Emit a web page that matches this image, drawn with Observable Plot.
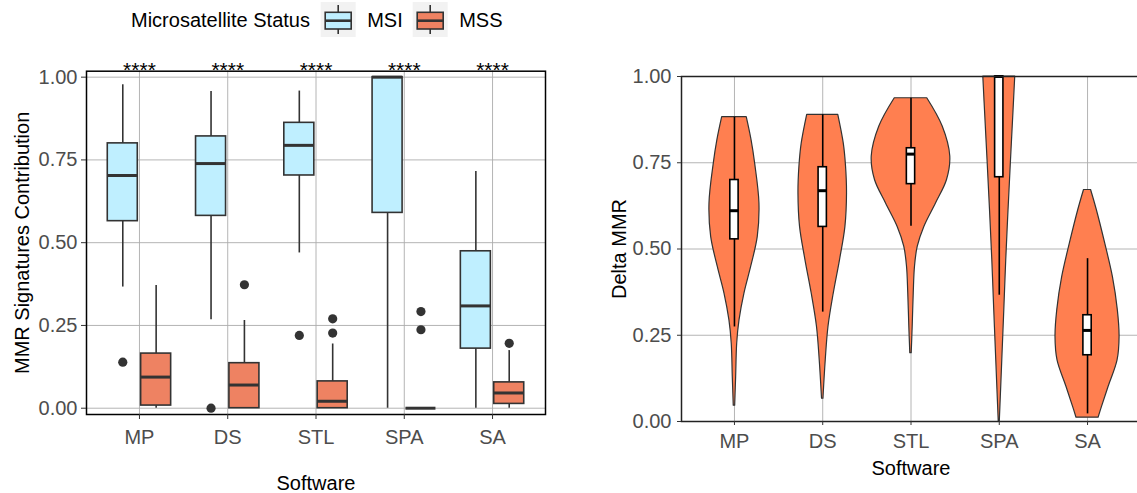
<!DOCTYPE html>
<html><head><meta charset="utf-8">
<script src="https://cdn.jsdelivr.net/npm/d3@7"></script>
<script src="https://cdn.jsdelivr.net/npm/@observablehq/plot@0.6"></script>
<style>
html,body{margin:0;padding:0;background:#fff;}
body{overflow:hidden;width:1137px;height:493px;position:relative;font-family:"Liberation Sans",Arial,sans-serif;}
#legend{position:absolute;left:0;top:0;width:560px;height:40px;}
#left{position:absolute;left:0;top:40px;width:560px;height:453px;}
#right{position:absolute;left:570px;top:40px;width:570px;height:453px;}
svg{max-width:none !important;overflow:visible;}
</style></head><body>
<div id="legend"></div><div id="left"></div><div id="right"></div>
<script>
// ---------- data ----------
const software = ["MP", "DS", "STL", "SPA", "SA"];
const statusGroups = ["MSI", "MSS"];
const yTicks = [0, 0.25, 0.5, 0.75, 1];
const signif = ["****", "****", "****", "****", "****"];

// Left panel: boxplot statistics per software (MSI)
const msiLow  = [0.366, 0.267, 0.469, 0.000, 0.000];
const msiQ1   = [0.565, 0.581, 0.703, 0.590, 0.180];
const msiMed  = [0.703, 0.739, 0.794, 1.000, 0.309];
const msiQ3   = [0.800, 0.821, 0.862, 1.000, 0.474];
const msiHigh = [0.977, 0.957, 0.958, 1.000, 0.715];
const msiOutliers = [[0.139], [0.000], [0.220], [], []];
// (MSS)
const mssLow  = [0.000, 0.000, 0.000, 0.000, 0.000];
const mssQ1   = [0.008, 0.000, 0.000, 0.000, 0.013];
const mssMed  = [0.094, 0.070, 0.021, 0.000, 0.046];
const mssQ3   = [0.165, 0.136, 0.081, 0.000, 0.078];
const mssHigh = [0.371, 0.265, 0.194, 0.000, 0.174];
const mssOutliers = [[], [0.373], [0.270, 0.227], [0.292, 0.237], [0.196]];

// Right panel: Delta MMR violin profiles (value, half-width in category units)
const violinMP_y  = [0.046, 0.129, 0.226, 0.293, 0.371, 0.448, 0.535, 0.632, 0.748, 0.816, 0.882];
const violinMP_w  = [0.008, 0.019, 0.031, 0.057, 0.113, 0.189, 0.264, 0.283, 0.234, 0.193, 0.139];
const violinDS_y  = [0.066, 0.177, 0.274, 0.371, 0.468, 0.564, 0.661, 0.739, 0.806, 0.889];
const violinDS_w  = [0.008, 0.034, 0.065, 0.125, 0.196, 0.257, 0.275, 0.264, 0.238, 0.176];
const violinSTL_y = [0.198, 0.274, 0.371, 0.448, 0.506, 0.564, 0.632, 0.700, 0.768, 0.855, 0.937];
const violinSTL_w = [0.008, 0.019, 0.031, 0.045, 0.076, 0.151, 0.283, 0.408, 0.445, 0.359, 0.184];
const violinSPA_y = [0.000, 0.081, 0.177, 0.323, 0.468, 0.613, 0.758, 0.903, 1.000];
const violinSPA_w = [0.006, 0.019, 0.034, 0.057, 0.079, 0.105, 0.133, 0.162, 0.181];
const violinSA_y  = [0.011, 0.041, 0.100, 0.177, 0.245, 0.323, 0.419, 0.516, 0.613, 0.671];
const violinSA_w  = [0.125, 0.162, 0.238, 0.340, 0.363, 0.343, 0.287, 0.200, 0.105, 0.040];
// Right panel: inner boxplot statistics
const deltaLow  = [0.274, 0.317, 0.566, 0.366, 0.022];
const deltaQ1   = [0.528, 0.564, 0.688, 0.708, 0.192];
const deltaMed  = [0.611, 0.669, 0.775, 1.000, 0.264];
const deltaQ3   = [0.700, 0.737, 0.792, 1.000, 0.308];
const deltaHigh = [0.882, 0.889, 0.937, 1.000, 0.472];

// ---------- styling ----------
const FONT = '"Liberation Sans", Arial, sans-serif';
const colMSI = "#BFEFFF", colMSS = "#EE8262", colViolin = "#FF7F50";
const gridCol = "#ababab";
const pos = software.map((s, i) => i + 1);
const dodge = 0.189, halfBox = 0.17, halfInner = 0.047;

// ---------- legend ----------
(function () {
  const svg = d3.select("#legend").append("svg").attr("width", 560).attr("height", 40)
    .style("font-family", FONT).style("font-size", "20px");
  svg.append("text").attr("x", 131).attr("y", 27.3).text("Microsatellite Status");
  const keys = [{g: statusGroups[0], fill: colMSI, x: 320.7}, {g: statusGroups[1], fill: colMSS, x: 412.7}];
  keys.forEach(k => {
    svg.append("rect").attr("x", k.x).attr("y", 2).attr("width", 35).attr("height", 35).attr("fill", "#f2f2f2");
    svg.append("line").attr("x1", k.x + 17.5).attr("x2", k.x + 17.5).attr("y1", 5).attr("y2", 34).attr("stroke", "#333").attr("stroke-width", 1.6);
    svg.append("rect").attr("x", k.x + 4.5).attr("y", 12.3).attr("width", 26).attr("height", 16.7)
      .attr("fill", k.fill).attr("stroke", "#333").attr("stroke-width", 1.6);
    svg.append("line").attr("x1", k.x + 4.5).attr("x2", k.x + 30.5).attr("y1", 20.7).attr("y2", 20.7).attr("stroke", "#333").attr("stroke-width", 2.6);
    svg.append("text").attr("x", k.x + 46.5).attr("y", 27.3).text(k.g);
  });
})();

// ---------- left panel ----------
const leftBoxes = [];
const leftOut = [];
software.forEach((s, i) => {
  leftBoxes.push({s, g: "MSI", i, lo: msiLow[i], q1: msiQ1[i], med: msiMed[i], q3: msiQ3[i], hi: msiHigh[i]});
  leftBoxes.push({s, g: "MSS", i, lo: mssLow[i], q1: mssQ1[i], med: mssMed[i], q3: mssQ3[i], hi: mssHigh[i]});
  msiOutliers[i].forEach(v => leftOut.push({s, g: "MSI", i, v}));
  mssOutliers[i].forEach(v => leftOut.push({s, g: "MSS", i, v}));
});
const bx = d => d.i + 1 + (d.g === "MSI" ? -dodge : dodge);
const msiB = leftBoxes.filter(d => d.g === "MSI");
const mssB = leftBoxes.filter(d => d.g === "MSS");

const left = Plot.plot({
  width: 560, height: 453,
  marginLeft: 86, marginRight: 15, marginTop: 30.7, marginBottom: 79,
  style: {fontFamily: FONT, fontSize: "20px", background: "transparent", overflow: "visible"},
  x: {domain: [0.4, 5.6]},
  y: {domain: [-0.019, 1.018]},
  marks: [
    Plot.ruleY(yTicks, {stroke: gridCol, strokeWidth: 0.9}),
    Plot.ruleX(pos, {stroke: gridCol, strokeWidth: 0.9}),
    Plot.ruleX(leftBoxes, {x: bx, y1: "lo", y2: "hi", stroke: "#333", strokeWidth: 1.6}),
    Plot.rect(msiB, {x1: d => bx(d) - halfBox, x2: d => bx(d) + halfBox, y1: "q1", y2: "q3", fill: colMSI, stroke: "#333", strokeWidth: 1.6}),
    Plot.rect(mssB, {x1: d => bx(d) - halfBox, x2: d => bx(d) + halfBox, y1: "q1", y2: "q3", fill: colMSS, stroke: "#333", strokeWidth: 1.6}),
    Plot.ruleY(leftBoxes, {x1: d => bx(d) - halfBox, x2: d => bx(d) + halfBox, y: "med", stroke: "#333", strokeWidth: 3}),
    Plot.dot(leftOut, {x: bx, y: "v", r: 4.6, fill: "#333", stroke: "none"}),
    Plot.text(software, {x: (d, i) => i + 1, frameAnchor: "top", text: (d, i) => signif[i], dy: -9, fill: "#000", fontSize: 21}),
    Plot.frame({stroke: "#000", strokeWidth: 1.5}),
    Plot.axisX(pos, {tickFormat: t => software[t - 1], tickSize: 5, tickPadding: 10, fill: "#4d4d4d", stroke: "#333", label: null}),
    Plot.axisY(yTicks, {tickFormat: d3.format(".2f"), tickSize: 5, tickPadding: 4, fill: "#4d4d4d", stroke: "#333", label: null}),
    Plot.text(["MMR Signatures Contribution"], {frameAnchor: "left", textAnchor: "middle", rotate: -90, dx: -64, fill: "#000"}),
    Plot.text(["Software"], {frameAnchor: "bottom", dy: 75, fill: "#000"})
  ]
});
document.getElementById("left").appendChild(left);

// ---------- right panel ----------
const violinY = [violinMP_y, violinDS_y, violinSTL_y, violinSPA_y, violinSA_y];
const violinW = [violinMP_w, violinDS_w, violinSTL_w, violinSPA_w, violinSA_w];
const violinData = [];
software.forEach((s, i) => violinY[i].forEach((y, j) => violinData.push({s, c: i + 1, y, w: violinW[i][j]})));
const innerBoxes = software.map((s, i) => ({s, c: i + 1, lo: deltaLow[i], q1: deltaQ1[i], med: deltaMed[i], q3: deltaQ3[i], hi: deltaHigh[i]}));

const right = Plot.plot({
  width: 570, height: 453,
  marginLeft: 111, marginRight: 0, marginTop: 36, marginBottom: 72,
  style: {fontFamily: FONT, fontSize: "20px", background: "transparent", overflow: "visible"},
  x: {domain: [0.4, 5.6]},
  y: {domain: [0, 1]},
  marks: [
    Plot.ruleY(yTicks, {stroke: gridCol, strokeWidth: 0.9}),
    Plot.ruleX(pos, {stroke: gridCol, strokeWidth: 0.9}),
    Plot.areaX(violinData, {y: "y", x1: d => d.c - d.w, x2: d => d.c + d.w, z: "s", fill: colViolin, stroke: "#333", strokeWidth: 1.2, curve: "catmull-rom"}),
    Plot.ruleX(innerBoxes, {x: "c", y1: "lo", y2: "hi", stroke: "#000", strokeWidth: 1.6}),
    Plot.rect(innerBoxes, {x1: d => d.c - halfInner, x2: d => d.c + halfInner, y1: "q1", y2: "q3", fill: "#fff", stroke: "#000", strokeWidth: 1.6}),
    Plot.ruleY(innerBoxes, {x1: d => d.c - halfInner, x2: d => d.c + halfInner, y: "med", stroke: "#000", strokeWidth: 3}),
    Plot.frame({stroke: "#222", strokeWidth: 1.5}),
    Plot.axisX(pos, {tickFormat: t => software[t - 1], tickSize: 4, tickPadding: 8, fill: "#4d4d4d", stroke: "#333", label: null}),
    Plot.axisY(yTicks, {tickFormat: d3.format(".2f"), tickSize: 4, tickPadding: 6, fill: "#4d4d4d", stroke: "#333", label: null}),
    Plot.text(["Delta MMR"], {frameAnchor: "left", textAnchor: "middle", rotate: -90, dx: -62, fill: "#000"}),
    Plot.text(["Software"], {frameAnchor: "bottom", dy: 53, fill: "#000"})
  ]
});
document.getElementById("right").appendChild(right);
</script>
</body></html>
